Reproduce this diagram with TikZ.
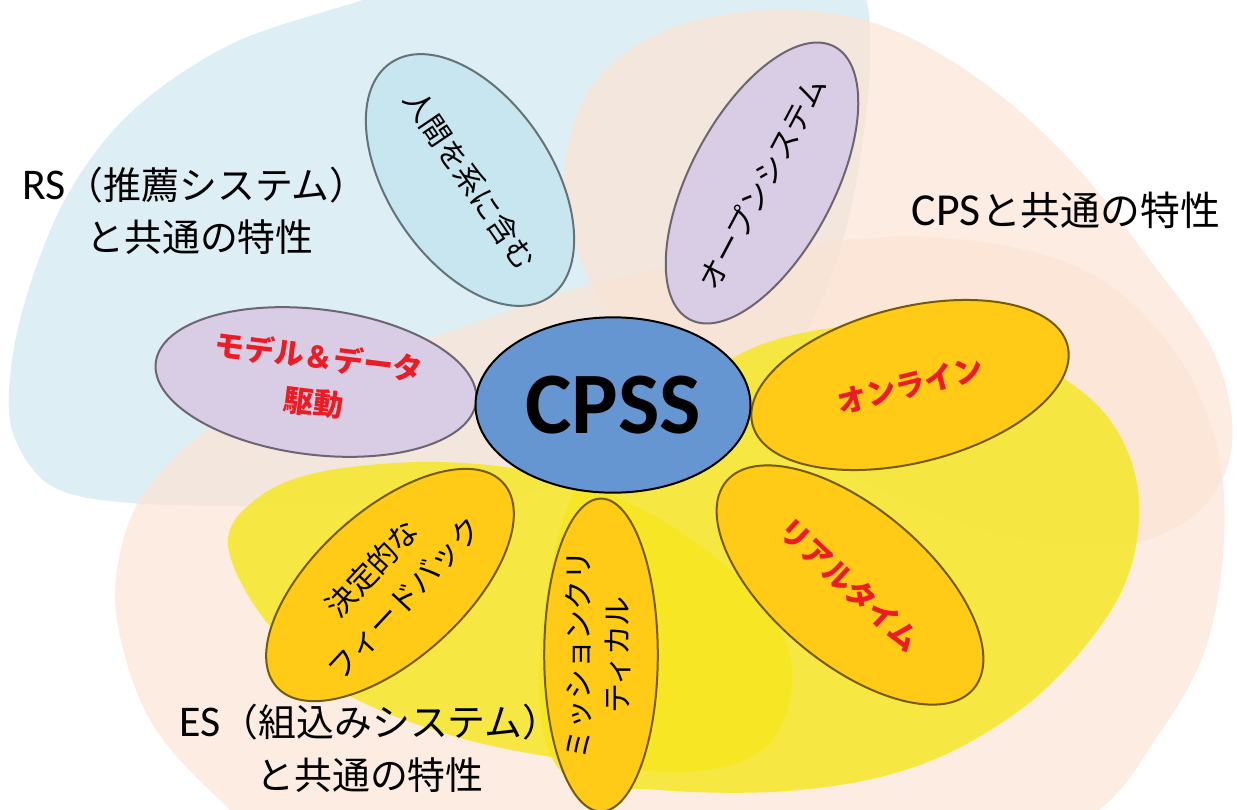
\documentclass[tikz,border=0pt]{standalone}
\usepackage{fontspec}
\usepackage{graphicx}
\setmainfont{Noto Sans CJK JP}
\newfontfamily\lat{Carlito}
\usetikzlibrary{shapes.geometric}
\definecolor{bgblue}{HTML}{DDEEF4}
\definecolor{bgpeach}{HTML}{FBE4D4}
\definecolor{bgyellow}{HTML}{F6E71C}
\definecolor{pblue}{HTML}{C7E6EF}
\definecolor{plav}{HTML}{D9CDE5}
\definecolor{pgold}{HTML}{FFCB17}
\definecolor{cblue}{HTML}{6596D1}
\definecolor{tred}{HTML}{EC1C24}
\newcommand{\twoln}[2]{\makebox[0pt]{\begin{tabular}{@{}c@{}}#1\\#2\end{tabular}}}
\newcommand{\oneln}[1]{\makebox[0pt]{#1}}
\begin{document}
\begin{tikzpicture}[x=1bp,y=-1bp,
  petal/.style={ellipse, inner sep=0pt, line width=2bp},
  bluepetal/.style={petal, fill=pblue, draw=pblue!50!black},
  lavpetal/.style={petal, fill=plav, draw=plav!50!black},
  goldpetal/.style={petal, fill=pgold, draw=pgold!45!black},
  ptext/.style={font=\fontsize{30}{44}\selectfont, text=black},
  rtext/.style={font=\fontsize{30}{46}\selectfont\bfseries, text=tred},
  lbl/.style={font=\fontsize{38}{52}\selectfont, text=black, inner sep=0pt}]
\useasboundingbox (0,0) rectangle (1237,810);
\begin{scope}
\clip (0,0) rectangle (1237,810);
% background regions
\fill[bgblue] plot[smooth cycle, tension=0.55] coordinates {(470,-30) (350,4) (240,40) (160,88) (105,140) (62,205) (30,285) (12,360) (12,430) (50,485) (130,503) (300,506) (480,500) (620,470) (760,400) (840,250) (870,60) (840,-30) (650,-50)};
\fill[bgpeach, fill opacity=0.7] plot[smooth cycle, tension=0.6] coordinates {(565,200) (575,120) (610,65) (680,25) (780,10) (880,25) (980,80) (1070,160) (1150,260) (1210,345) (1232,420) (1222,480) (1180,525) (1110,545) (980,530) (820,460) (680,380) (600,300)};
\fill[bgpeach, fill opacity=0.7] plot[smooth cycle, tension=0.6] coordinates {(117,620) (122,545) (150,485) (220,420) (320,370) (440,335) (600,282) (767,250) (933,237) (1080,268) (1170,345) (1215,440) (1224,540) (1205,650) (1155,740) (1093,815) (950,900) (550,920) (290,850) (220,800) (150,720)};
\fill[bgyellow, fill opacity=0.8] plot[smooth cycle, tension=0.6] coordinates {(690,390) (760,345) (860,325) (960,332) (1050,370) (1110,420) (1138,490) (1130,570) (1090,640) (1020,710) (920,765) (800,790) (660,790) (560,770) (540,650) (580,480)};
\fill[bgyellow, fill opacity=0.8] plot[smooth cycle, tension=0.6] coordinates {(228,545) (255,500) (320,472) (440,462) (560,478) (670,525) (760,600) (792,672) (768,745) (690,772) (570,760) (450,735) (340,690) (265,620)};
\end{scope}
% labels of the regions
\node[lbl] (rs1) at (195,185) {{\lat\fontsize{44}{52}\selectfont RS}（推薦システム）};
\node[lbl] (rs2) at (200,237) {と共通の特性};
\node[lbl, font=\fontsize{40}{52}\selectfont] (cps) at (1066,210) {{\lat\fontsize{46}{52}\selectfont CPS}と共通の特性};
\node[lbl] (es1) at (370,722) {{\lat\fontsize{44}{52}\selectfont ES}（組込みシステム）};
\node[lbl] (es2) at (370,775) {と共通の特性};
% petals
\node[bluepetal, minimum width=284, minimum height=164, rotate=-56, ptext] (human) at (470,180) {\oneln{人間を系に含む}};
\node[lavpetal, minimum width=310, minimum height=144, rotate=62, ptext] (open) at (762,183) {\oneln{オープンシステム}};
\node[lavpetal, minimum width=324, minimum height=146, rotate=-7, rtext] (model) at (316,382) {\twoln{モデル＆データ}{駆動}};
\node[goldpetal, minimum width=326, minimum height=156, rotate=14, rtext] (online) at (910,385) {\oneln{オンライン}};
\node[goldpetal, minimum width=324, minimum height=156, rotate=-40, rtext] (realtime) at (850,585) {\oneln{\rotatebox[origin=c]{-3}{リアルタイム}}};
\node[goldpetal, minimum width=314, minimum height=114, rotate=90, ptext, font=\fontsize{30}{40}\selectfont] (mission) at (601,655) {\twoln{ミッションクリ}{ティカル}};
\node[goldpetal, minimum width=306, minimum height=150, rotate=42, ptext] (feedback) at (390,585) {\makebox[0pt]{\rotatebox[origin=c]{5}{\begin{tabular}{@{}c@{}}決定的な\\フィードバック\end{tabular}}}};
% centre
\node[ellipse, inner sep=0pt, minimum width=276, minimum height=176, fill=cblue, draw=black, line width=2bp, font=\lat\bfseries\fontsize{88}{96}\selectfont] (cpss) at (613,405) {CPSS};
\end{tikzpicture}
\end{document}
